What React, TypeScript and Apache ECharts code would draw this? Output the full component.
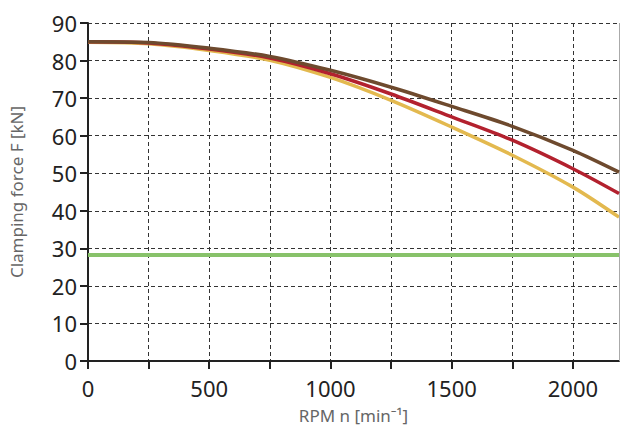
import React, { useEffect, useRef } from "react";
import * as echarts from "echarts";

const rpm = [0, 250, 500, 750, 1000, 1250, 1500, 1750, 2000, 2190];
const brownForce = [85.0, 84.8, 83.3, 81.1, 77.4, 72.9, 67.8, 62.5, 56.1, 50.3];
const redForce = [85.0, 84.7, 83.1, 80.7, 76.5, 71.1, 65.0, 58.8, 51.2, 44.6];
const yellowForce = [84.9, 84.5, 82.7, 80.1, 75.5, 69.4, 62.3, 54.8, 46.3, 38.3];
const minForceX = [0, 2190];
const minForce = [28.2, 28.2];

const xLabels = [0, 500, 1000, 1500, 2000];

export default function App() {
  const ref = useRef<HTMLDivElement>(null);
  useEffect(() => {
    if (!ref.current) return;
    const chart = echarts.init(ref.current, null, { renderer: "svg" });
    const zip = (xs: number[], ys: number[]) => xs.map((x, i) => [x, ys[i]]);
    const font = "'Noto Sans', 'Open Sans', sans-serif";
    chart.setOption({
      animation: false,
      grid: { left: 88, top: 23, right: 1, bottom: 69, containLabel: false, outerBoundsMode: "none" },
      xAxis: {
        type: "value",
        min: 0,
        max: 2190,
        interval: 250,
        name: "RPM n [min⁻¹]",
        nameLocation: "middle",
        nameGap: 46,
        nameTextStyle: { color: "#666", fontSize: 17, fontFamily: font },
        axisLine: { show: true, lineStyle: { color: "#222", width: 2 } },
        axisTick: { show: true, length: 8, lineStyle: { color: "#222", width: 2 } },
        axisLabel: {
          color: "#222",
          fontSize: 22,
          fontFamily: font,
          margin: 16,
          showMaxLabel: false,
          formatter: (v: number) => (xLabels.includes(v) ? String(v) : ""),
        },
        splitLine: { show: true, lineStyle: { color: "#333", type: [4, 3], width: 1 } },
      },
      yAxis: {
        type: "value",
        min: 0,
        max: 90,
        interval: 10,
        name: "Clamping force F [kN]",
        nameLocation: "middle",
        nameGap: 63,
        nameTextStyle: { color: "#666", fontSize: 17, fontFamily: font },
        axisLine: { show: true, lineStyle: { color: "#222", width: 2 } },
        axisTick: { show: true, inside: false, length: 8, lineStyle: { color: "#222", width: 2 } },
        axisLabel: { color: "#222", fontSize: 22, fontFamily: font, margin: 11 },
        splitLine: { show: true, lineStyle: { color: "#333", type: [4, 3], width: 1 } },
      },
      series: [
        {
          type: "line",
          data: zip(minForceX, minForce),
          showSymbol: false,
          lineStyle: { color: "#88C26A", width: 4 },
          z: 3,
          markLine: {
            silent: true,
            symbol: "none",
            label: { show: false },
            lineStyle: { color: "#aaa", width: 1, type: "solid" },
            data: [{ xAxis: 2190 }],
          },
        },
        {
          type: "line",
          data: zip(rpm, yellowForce),
          smooth: 0.3,
          showSymbol: false,
          lineStyle: { color: "#E3B94F", width: 3.5 },
          z: 4,
        },
        {
          type: "line",
          data: zip(rpm, redForce),
          smooth: 0.3,
          showSymbol: false,
          lineStyle: { color: "#B3212E", width: 3.5 },
          z: 5,
        },
        {
          type: "line",
          data: zip(rpm, brownForce),
          smooth: 0.3,
          showSymbol: false,
          lineStyle: { color: "#6E4A2E", width: 3.5 },
          z: 6,
        },
      ],
    });
    return () => chart.dispose();
  }, []);
  return <div ref={ref} style={{ width: 620, height: 430, position: "absolute", left: 0, top: 0 }} />;
}
